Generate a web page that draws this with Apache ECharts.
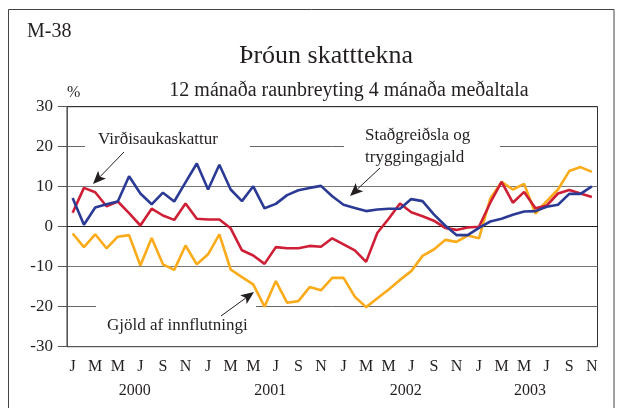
<!DOCTYPE html>
<html>
<head>
<meta charset="utf-8">
<script src="https://cdn.jsdelivr.net/npm/echarts@6/dist/echarts.min.js"></script>
<style>
html,body{margin:0;padding:0;background:#fff}
#chart{width:621px;height:408px}
</style>
</head>
<body>
<div id="chart"></div>
<script>
const monthLetters = ["J","F","M","A","M","J","J","A","S","O","N","D"]
const years = ["2000","2001","2002","2003"]

// Staðgreiðsla og tryggingagjald
const stadgreidsla = [7.2, 0.5, 4.8, 5.6, 6.3, 12.6, 8.3, 5.6, 8.5, 6.3, 11.1, 15.8,
    9.3, 15.5, 9.3, 6.4, 10.1, 4.6, 5.7, 7.9, 9.1, 9.7, 10.2, 7.6,
    5.5, 4.7, 3.9, 4.3, 4.5, 4.5, 6.9, 6.4, 3.1, 0.3, -2.1, -2.1,
    -0.3, 1.3, 2.0, 3.0, 3.8, 3.9, 5.0, 5.5, 8.2, 8.2, 10.1]
// Virðisaukaskattur
const vsk = [3.5, 9.7, 8.6, 5.1, 6.3, 3.4, 0.3, 4.5, 2.8, 1.7, 5.8, 2.0,
    1.8, 1.8, -0.4, -5.9, -7.2, -9.3, -5.1, -5.4, -5.4, -4.8, -5.0, -2.9,
    -4.4, -5.9, -8.8, -1.5, 2.0, 5.8, 3.6, 2.6, 1.5, -0.3, -0.8, -0.2,
    0.0, 6.0, 11.2, 6.0, 8.7, 4.6, 5.3, 8.3, 9.2, 8.3, 7.4]
// Gjöld af innflutningi
const innflutningur = [-1.7, -5.1, -1.9, -5.4, -2.5, -2.1, -9.7, -2.8, -9.4, -10.8, -4.7, -9.4,
    -6.9, -1.9, -10.7, -12.6, -14.4, -20.0, -13.6, -19.0, -18.6, -15.1, -15.9, -12.8,
    -12.8, -17.5, -20.1, -17.9, -15.7, -13.3, -11.1, -7.3, -5.7, -3.3, -3.8, -2.2,
    -2.9, 7.0, 11.2, 9.3, 10.7, 3.3, 6.4, 9.3, 13.9, 14.9, 13.7]

const yTicks = {min: -30, max: 30, interval: 10}
const yearLabelIndex = [6, 18, 30, 41]

const categories = vsk.map((v, i) => monthLetters[i % 12])

const font = "'Liberation Serif', 'Times New Roman', serif"
const ink = "#231f20"

// ör: lína með fylltum oddi
const arrow = (x1, y1, x2, y2) => {
    const dx = x2 - x1, dy = y2 - y1
    const len = Math.sqrt(dx * dx + dy * dy)
    const ux = dx / len, uy = dy / len
    const hl = 13, hw = 5.5
    const bx = x2 - ux * hl, by = y2 - uy * hl
    return [
        {type: "line", z: 110, shape: {x1, y1, x2: bx + ux * 3, y2: by + uy * 3}, style: {stroke: ink, lineWidth: 1}},
        {type: "polygon", z: 110, shape: {points: [[x2, y2], [bx - uy * hw, by + ux * hw], [bx + ux * 3, by + uy * 3], [bx + uy * hw, by - ux * hw]]}, style: {fill: ink}}
    ]
}

const box = (x, y, width, height) => ({type: "rect", z: 100, shape: {x, y, width, height}, style: {fill: "#fff"}})
const label = (text, x, y, align) => ({
    type: "text", z: 110, x, y,
    style: {text, font: "17px " + font, fill: ink, textAlign: align || "left", textVerticalAlign: "middle"}
})

const chart = echarts.init(document.getElementById("chart"))

const option = {
    animation: false,
    backgroundColor: "#fff",
    title: [
        {text: "M-38", left: 27, top: 22, padding: 0, textStyle: {fontFamily: font, fontSize: 20, fontWeight: "normal", color: ink}},
        {text: "Þróun skatttekna", left: 326, top: 43, padding: 0, textAlign: "center", textStyle: {fontFamily: font, fontSize: 26, fontWeight: "normal", color: ink}},
        {text: "12 mánaða raunbreyting 4 mánaða meðaltala", left: 349, top: 81, padding: 0, textAlign: "center", textStyle: {fontFamily: font, fontSize: 20, fontWeight: "normal", color: ink}}
    ],
    grid: {left: 67, right: 23.5, top: 106.7, bottom: 61.3, show: true, borderColor: "#333", borderWidth: 1, containLabel: false},
    xAxis: [
        {
            type: "category",
            data: categories,
            boundaryGap: true,
            axisLine: {lineStyle: {color: "#222", width: 1}},
            axisTick: {alignWithLabel: true, interval: 0, length: 7, lineStyle: {color: "#222"}},
            axisLabel: {interval: 1, margin: 12, fontFamily: font, fontSize: 16, color: ink}
        },
        {
            type: "category",
            data: categories,
            position: "bottom",
            offset: 29,
            boundaryGap: true,
            axisLine: {show: false},
            axisTick: {interval: i => i % 12 === 0, length: 25, lineStyle: {color: "#222"}},
            axisLabel: {
                interval: i => yearLabelIndex.includes(i),
                formatter: (v, i) => years[Math.floor(i / 12)],
                padding: [0, 11, 0, 0],
                margin: 7, fontFamily: font, fontSize: 16, color: ink
            }
        }
    ],
    yAxis: {
        type: "value",
        min: yTicks.min, max: yTicks.max, interval: yTicks.interval,
        name: "%",
        nameLocation: "end",
        nameGap: 14,
        nameTextStyle: {fontFamily: font, fontSize: 16, color: ink, align: "left", verticalAlign: "middle"},
        axisLine: {show: true, lineStyle: {color: "#555", width: 1}},
        axisTick: {show: true, length: 9, lineStyle: {color: "#555"}},
        axisLabel: {margin: 14, fontFamily: font, fontSize: 17, color: ink},
        splitLine: {show: true, lineStyle: {color: ["#555", "#666", "#777", "#111", "#777", "#666", "#333"], width: 1}}
    },
    series: [
        {name: "Gjöld af innflutningi", type: "line", data: innflutningur, showSymbol: false, lineStyle: {color: "#fbab19", width: 2.6}, z: 3},
        {name: "Virðisaukaskattur", type: "line", data: vsk, showSymbol: false, lineStyle: {color: "#cf1f36", width: 2.6}, z: 4},
        {name: "Staðgreiðsla og tryggingagjald", type: "line", data: stadgreidsla, showSymbol: false, lineStyle: {color: "#2b3a94", width: 2.6}, z: 5}
    ],
    graphic: [
        {type: "rect", z: 90, shape: {x: 8.5, y: 9.5, width: 605.5, height: 420}, style: {fill: null, stroke: "#444", lineWidth: 1}},
        box(85, 128, 165, 23),
        box(344, 123, 156, 46),
        box(96, 300, 160, 38),
        label("Virðisaukaskattur", 98, 140),
        label("Staðgreiðsla og", 365, 136),
        label("tryggingagjald", 365, 158),
        label("Gjöld af innflutningi", 107, 326),
        ...arrow(124, 152, 93, 184),
        ...arrow(380, 168, 350, 196),
        ...arrow(221, 316, 254, 292)
    ]
}

chart.setOption(option)
</script>
</body>
</html>
